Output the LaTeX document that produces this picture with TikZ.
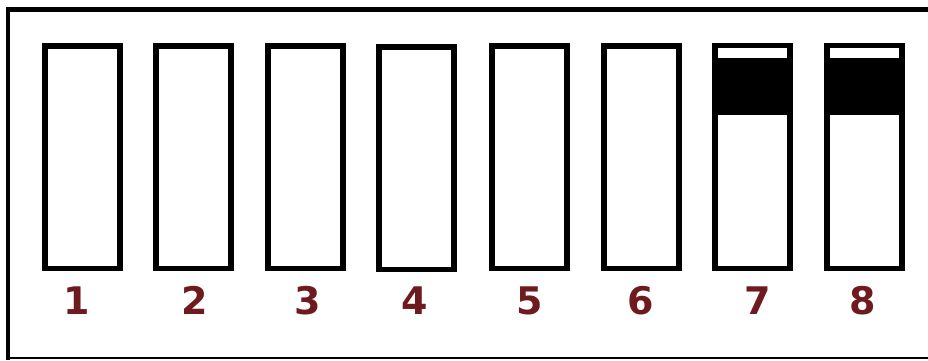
\documentclass[tikz,border=0pt]{standalone}
\usepackage{fontspec}
\newfontfamily\digitfont{DejaVu Sans Bold}
\definecolor{digitred}{RGB}{110,26,30}
\begin{document}
\begin{tikzpicture}[x=1pt,y=-1pt,
  switchbox/.style={draw=black,line width=5.5pt,fill=white},
  digit/.style={font=\digitfont\fontsize{38}{38}\selectfont,text=digitred,inner sep=0pt,anchor=base},
  frameline/.style={line width=4.5pt,line cap=rect}]
\useasboundingbox (0,0) rectangle (928,360);
\fill[white] (0,0) rectangle (928,360);
% outer frame
\draw[frameline] (8,358) -- (8,9.5) -- (928,9.5);
\draw[line width=2pt] (8,358) -- (928,358);
% switches
\foreach \n/\xl/\yt/\yb in {1/42/43/271,2/153/43/271,3/265/43/271,4/376/44/272,5/489/43/271,6/601/43/271,7/712/43/271,8/824/43/271}{
  \node[switchbox,minimum width=75pt,minimum height=222.5pt,inner sep=0pt,outer sep=0pt,anchor=north west] (s\n) at (\xl+2.75,\yt+2.75) {};
}
% black sliders on 7 and 8
\foreach \n in {7,8}{
  \fill[black] ([xshift=-2.75pt,yshift=2.75pt]s\n.north west) rectangle ([xshift=2.75pt,yshift=-69.5pt]s\n.north east);
  \fill[white] ([xshift=2.75pt,yshift=-2.25pt]s\n.north west) rectangle ([xshift=-2.75pt,yshift=-12.5pt]s\n.north east);
}
% labels
\foreach \n/\x in {1/77,2/195,3/308,4/415,5/530,6/641,7/758,8/863}{
  \node[digit] (d\n) at (\x,314) {\n};
}
\end{tikzpicture}
\end{document}
